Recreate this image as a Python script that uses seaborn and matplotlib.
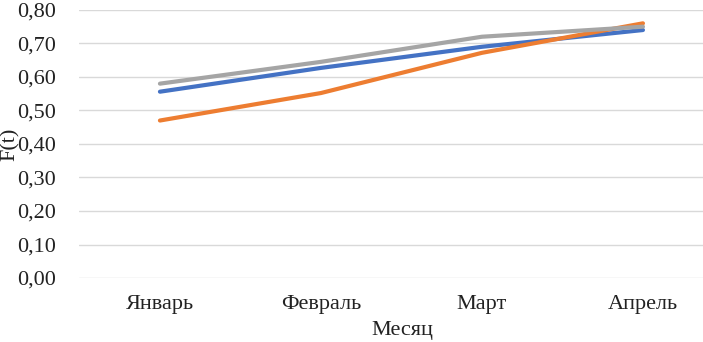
import matplotlib.pyplot as plt
import pandas as pd
import seaborn as sns
from matplotlib.ticker import FuncFormatter

# Data
months = ["Январь", "Февраль", "Март", "Апрель"]
series_blue = [0.556, 0.627, 0.690, 0.740]
series_orange = [0.470, 0.552, 0.672, 0.760]
series_gray = [0.580, 0.645, 0.720, 0.750]

series_names = ["Ряд 1", "Ряд 2", "Ряд 3"]
colors = ["#4472C4", "#ED7D31", "#A5A5A5"]

df = pd.DataFrame({
    "Месяц": months * 3,
    "F(t)": series_blue + series_orange + series_gray,
    "series": [n for n in series_names for _ in months],
})
df["x"] = df["Месяц"].map({m: i for i, m in enumerate(months)})

sns.set_theme(style="white")
plt.rcParams["font.family"] = ["Liberation Serif", "DejaVu Serif"]
plt.rcParams["font.size"] = 16

fig = plt.figure(figsize=(7.03, 3.42), dpi=100)
ax = fig.add_axes([0.113, 0.187, 0.887, 0.784])

sns.lineplot(
    data=df, x="x", y="F(t)", hue="series",
    hue_order=series_names, palette=colors,
    linewidth=3, sort=False, legend=False, ax=ax,
)

ax.set_xlim(-0.5, 3.373)
ax.set_ylim(0, 0.8)
ax.set_yticks([i / 10 for i in range(9)])
ax.yaxis.set_major_formatter(FuncFormatter(lambda v, _: f"{v:.2f}".replace(".", ",")))
ax.set_xticks(range(len(months)))
ax.set_xticklabels(months)
ax.grid(axis="y", color="#d9d9d9", linewidth=1)
ax.set_axisbelow(True)
for s in ax.spines.values():
    s.set_visible(False)
ax.tick_params(axis="both", length=0, labelsize=16, colors="#222222")
ax.tick_params(axis="y", pad=17)
ax.tick_params(axis="x", pad=12)

ax.set_xlabel("Месяц", fontsize=16, color="#222222")
ax.xaxis.set_label_coords(0.517, -0.16)
ax.set_ylabel("F(t)", fontsize=16, color="#222222")
ax.yaxis.set_label_coords(-0.096, 0.5)

fig.savefig("out.png", dpi=100)
